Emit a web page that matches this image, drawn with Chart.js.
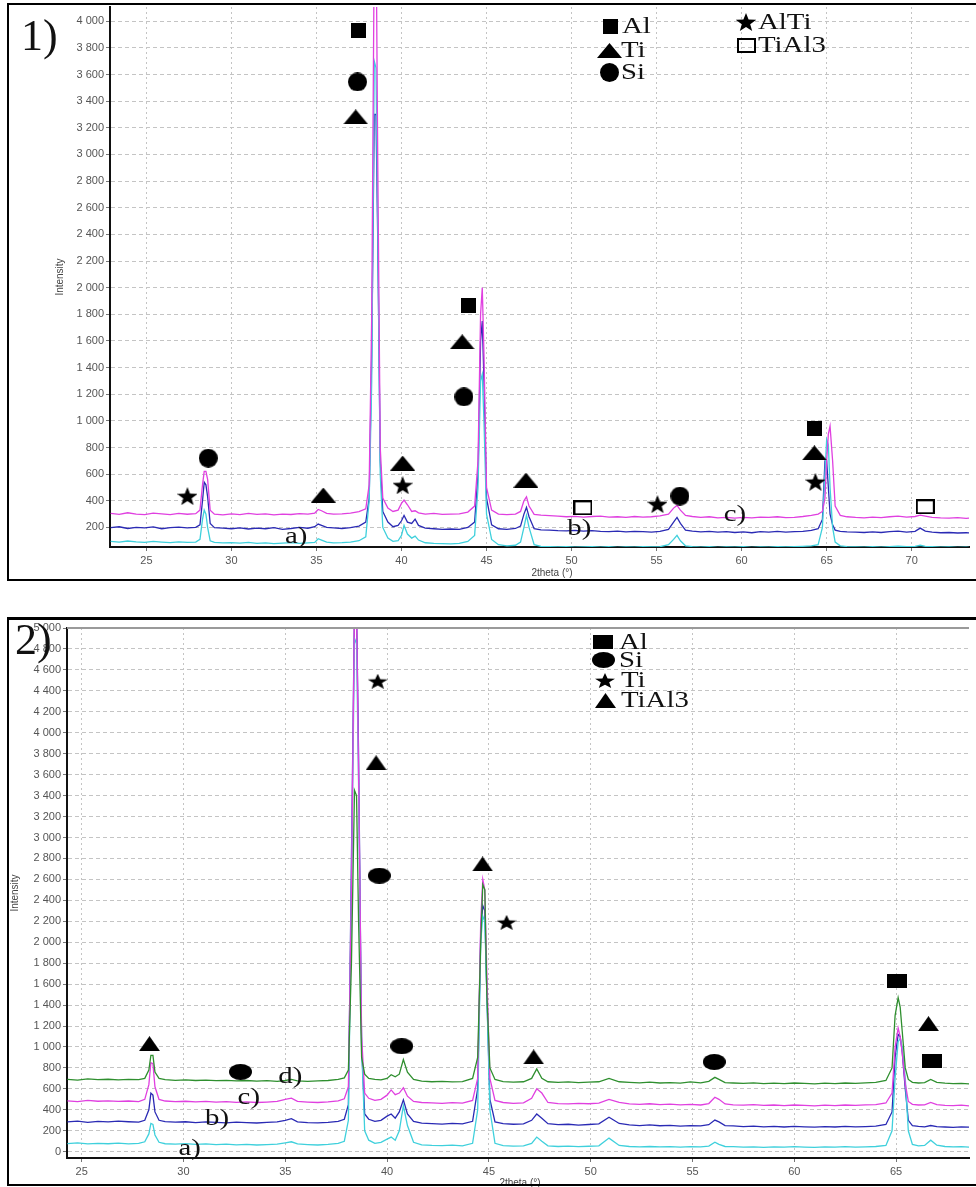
<!DOCTYPE html>
<html>
<head>
<meta charset="utf-8">
<script src="https://cdn.jsdelivr.net/npm/chart.js@4.4.1/dist/chart.umd.min.js"></script>
<style>
  html, body { margin: 0; padding: 0; background: #fff; }
  #page { position: relative; width: 976px; height: 1187px; overflow: hidden; }
  canvas { position: absolute; left: 0; z-index: 1; }
  #chart1 { top: 0; }
  #chart2 { top: 615px; }
  .frame { position: absolute; left: 7px; width: 1000px; box-sizing: border-box; border: 2px solid #000; z-index: 2; }
  #frame1 { top: 3px; height: 578px; }
  #frame2 { top: 617px; height: 569px; border-top-width: 3px; }
</style>
</head>
<body>
<div id="page">
  <canvas id="chart1" width="976" height="580"></canvas>
  <canvas id="chart2" width="976" height="572"></canvas>
  <div class="frame" id="frame1"></div>
  <div class="frame" id="frame2"></div>
</div>
<script>
// ---------- panel 1 : three patterns a) b) c) ----------
const X1 = [
  22.9, 23.4, 23.9, 24.4, 24.9, 25.4, 25.9, 26.4, 26.9, 27.4,
  27.9, 28.15, 28.3, 28.4, 28.5, 28.6, 28.75, 29.0, 29.5, 30.0,
  30.5, 31.0, 31.5, 32.0, 32.5, 33.0, 33.5, 34.0, 34.5, 34.9,
  35.1, 35.3, 35.6, 36.0, 36.5, 37.0, 37.5, 37.9, 38.1, 38.25,
  38.4, 38.5, 38.6, 38.75, 38.9, 39.2, 39.5, 39.8, 40.0, 40.15,
  40.35, 40.6, 40.8, 41.0, 41.4, 41.9, 42.4, 42.9, 43.4, 43.9,
  44.3, 44.5, 44.65, 44.75, 44.85, 45.0, 45.3, 45.7, 46.2, 46.7,
  47.0, 47.2, 47.35, 47.5, 47.8, 48.2, 48.7, 49.2, 49.7, 50.2,
  50.7, 51.2, 51.7, 52.2, 52.7, 53.2, 53.7, 54.2, 54.7, 55.2,
  55.7, 56.0, 56.2, 56.4, 56.7, 57.1, 57.6, 58.1, 58.6, 59.1,
  59.6, 60.1, 60.6, 61.1, 61.6, 62.1, 62.6, 63.1, 63.6, 64.1,
  64.5, 64.75, 64.9, 65.0, 65.1, 65.2, 65.35, 65.5, 65.8, 66.2,
  66.7, 67.2, 67.7, 68.2, 68.7, 69.2, 69.7, 70.2, 70.5, 70.8,
  71.2, 71.7, 72.2, 72.7, 73.2, 73.5
];
// a) cyan
const Y1a = [
  96, 90, 98, 92, 88, 95, 90, 86, 92, 88,
  90, 110, 260, 330, 300, 200, 100, 88, 84, 86,
  82, 88, 80, 84, 78, 82, 86, 80, 84, 88,
  115, 105, 90, 84, 86, 90, 100, 130, 400, 1300,
  3700, 3650, 2500, 600, 200, 120, 95, 100, 140, 215,
  150, 120, 135, 105, 85, 80, 78, 76, 80, 95,
  140, 500, 1300, 1350, 1000, 300, 110, 70, 62, 66,
  90, 200, 290, 200, 70, 58, 56, 54, 55, 52,
  54, 56, 52, 55, 50, 54, 52, 56, 53, 55,
  70, 110, 140, 100, 62, 56, 52, 55, 50, 54,
  52, 55, 50, 54, 52, 56, 53, 55, 58, 62,
  70, 200, 600, 860, 820, 500, 200, 90, 62, 56,
  54, 52, 55, 52, 56, 60, 55, 58, 66, 58,
  55, 52, 54, 50, 52, 50
];
// b) blue
const Y1b = [
  198, 205, 192, 200, 196, 204, 190, 198, 202, 196,
  200, 220, 400, 540, 520, 430, 230, 198, 195, 190,
  196, 188, 194, 190, 198, 186, 192, 200, 194, 205,
  225, 215, 200, 196, 192, 198, 210, 240, 420, 1500,
  3300, 3300, 2400, 700, 320, 240, 205, 215, 250, 290,
  240, 230, 262, 215, 195, 190, 186, 188, 185, 200,
  240, 600, 1600, 1750, 1300, 420, 220, 190, 186, 192,
  210, 300, 350, 280, 190, 182, 180, 176, 174, 178,
  172, 176, 170, 168, 172, 166, 170, 168, 164, 170,
  185, 240, 275, 230, 180, 172, 166, 170, 164, 168,
  162, 166, 160, 168, 165, 170, 164, 168, 170, 178,
  190, 260, 700, 700, 500, 300, 220, 180, 170, 166,
  164, 162, 166, 162, 168, 172, 165, 170, 195, 172,
  164, 160, 162, 158, 160, 158
];
// c) magenta
const Y1c = [
  305, 298, 310, 300, 296, 308, 302, 296, 305, 299,
  303, 330, 520, 620, 620, 560, 330, 300, 294, 302,
  296, 305, 298, 302, 294, 300, 297, 304, 300, 308,
  335, 325, 305, 300, 302, 308, 318, 340, 520, 1800,
  4600, 4800, 3000, 800, 420, 345, 320, 330, 380, 405,
  370, 320, 325, 310, 300, 305, 298, 300, 302, 315,
  360, 700, 1800, 2000, 1500, 500, 330, 300, 296, 300,
  320, 400, 430, 360, 298, 292, 288, 285, 280, 283,
  278, 282, 285, 278, 280, 276, 282, 278, 280, 286,
  300, 345, 365, 330, 290, 282, 276, 280, 272, 275,
  270, 276, 272, 278, 275, 280, 274, 276, 282, 290,
  300, 320, 420, 700, 900, 960, 700, 360, 290, 280,
  275, 272, 278, 274, 280, 285, 278, 282, 292, 285,
  276, 272, 270, 274, 268, 272
];
const p1TraceLabels = ['a)', 'b)', 'c)'];
const p1TraceLabelAt = [[33.8, 127], [50.4, 193], [59.6, 292]];
// phase markers [2theta, intensity]
const p1Squares = [[37.49, 3932], [43.96, 1868], [64.28, 943]];
const p1Triangles = [[37.31, 3282], [35.4, 443], [40.07, 683], [43.57, 1593], [47.32, 555], [64.28, 760]];
const p1Circles = [[28.64, 720], [37.41, 3544], [43.67, 1180], [56.37, 435]];
const p1Stars = [[27.41, 435], [40.07, 517], [55.05, 375], [64.34, 542]];
const p1OpenSquares = [[50.67, 347], [70.8, 355]];
const p1LegendNames = ['Al', 'Ti', 'Si', 'AlTi', 'TiAl3'];
const p1LegendShapes = ['square', 'triangle', 'circle', 'star', 'open'];

// ---------- panel 2 : four patterns a) b) c) d) ----------
const X2 = [
  24.3, 24.8, 25.3, 25.8, 26.3, 26.8, 27.3, 27.8, 28.1, 28.3,
  28.4, 28.5, 28.6, 28.8, 29.1, 29.6, 30.1, 30.6, 31.1, 31.6,
  32.1, 32.6, 33.1, 33.6, 34.1, 34.6, 35.0, 35.3, 35.6, 36.1,
  36.6, 37.1, 37.6, 37.9, 38.1, 38.25, 38.4, 38.5, 38.6, 38.75,
  38.9, 39.1, 39.4, 39.7, 40.0, 40.2, 40.4, 40.6, 40.8, 41.0,
  41.3, 41.7, 42.2, 42.7, 43.2, 43.7, 44.2, 44.45, 44.6, 44.7,
  44.8, 44.9, 45.05, 45.3, 45.7, 46.2, 46.7, 47.1, 47.35, 47.6,
  47.9, 48.4, 48.9, 49.4, 49.9, 50.4, 50.9, 51.4, 51.9, 52.4,
  52.9, 53.4, 53.9, 54.4, 54.9, 55.4, 55.8, 56.1, 56.3, 56.6,
  57.0, 57.5, 58.0, 58.5, 59.0, 59.5, 60.0, 60.5, 61.0, 61.5,
  62.0, 62.5, 63.0, 63.5, 64.0, 64.5, 64.8, 64.95, 65.1, 65.2,
  65.3, 65.45, 65.6, 65.8, 66.1, 66.4, 66.7, 67.0, 67.4, 67.8,
  68.2, 68.6
];
// a) cyan
const Y2a = [
  78, 84, 74, 80, 76, 82, 75, 80, 95, 170,
  270, 260, 160, 90, 76, 72, 78, 70, 74, 68,
  72, 66, 70, 64, 68, 72, 85, 95, 74, 68,
  64, 70, 80, 100, 300, 2500, 4900, 4850, 3500, 1000,
  200, 110, 80, 90, 120, 140, 110, 200, 440, 250,
  90, 66, 60, 58, 62, 56, 80, 400, 2000, 2250,
  2200, 1500, 400, 80, 58, 54, 56, 80, 140, 100,
  56, 50, 54, 48, 52, 56, 130, 60, 50, 46,
  50, 46, 48, 44, 48, 46, 54, 90, 70, 50,
  48, 44, 46, 42, 46, 44, 48, 44, 42, 46,
  44, 48, 44, 46, 50, 60, 200, 700, 1050, 1080,
  1000, 700, 200, 70, 56, 60, 110, 62, 50, 46,
  48, 44
];
// b) blue
const Y2b = [
  285, 292, 280, 290, 284, 292, 286, 282, 300, 400,
  560, 540, 380, 300, 288, 282, 286, 278, 284, 280,
  276, 282, 278, 274, 280, 284, 300, 315, 285, 278,
  275, 280, 290, 310, 450, 2800, 5200, 5200, 3800, 1000,
  360, 310, 290, 300, 340, 360, 320, 380, 495, 360,
  290, 272, 268, 264, 270, 266, 290, 600, 2100, 2350,
  2300, 1500, 500, 285, 268, 262, 266, 300, 360, 320,
  268, 258, 262, 254, 260, 266, 330, 270, 256, 250,
  256, 248, 252, 244, 250, 246, 258, 302, 285, 250,
  246, 240, 244, 238, 242, 236, 242, 238, 234, 240,
  236, 242, 238, 240, 244, 260, 380, 900, 1120, 1100,
  950, 600, 300, 250, 242, 238, 250, 240, 236, 232,
  238, 234
];
// c) magenta
const Y2c = [
  485, 478, 490, 482, 486, 480, 484, 478, 500, 640,
  850, 840, 620, 500, 484, 478, 482, 476, 480, 474,
  478, 472, 476, 470, 474, 480, 500, 512, 480, 474,
  470, 476, 486, 505, 620, 2500, 5200, 5200, 3600, 1100,
  560, 510, 490, 500, 540, 590, 545, 560, 610, 530,
  480, 470, 466, 462, 468, 464, 490, 700, 2200, 2600,
  2500, 1700, 700, 490, 470, 462, 466, 510, 600, 560,
  470, 460, 456, 462, 458, 464, 500, 470, 456, 452,
  458, 450, 454, 448, 452, 446, 460, 520, 500, 456,
  448, 444, 450, 442, 446, 440, 446, 442, 438, 444,
  440, 446, 442, 448, 450, 465, 560, 1000, 1180, 1100,
  950, 650, 480, 452, 446, 448, 470, 450, 442, 440,
  444, 438
];
// d) green
const Y2d = [
  690, 684, 695, 688, 692, 685, 690, 688, 700, 780,
  920, 920, 760, 700, 688, 682, 686, 680, 684, 678,
  682, 676, 680, 674, 678, 672, 680, 690, 676, 672,
  676, 680, 690, 705, 780, 1800, 3450, 3400, 2200, 900,
  740, 700, 690, 685, 700, 735, 715, 740, 880, 760,
  690, 674, 668, 672, 666, 670, 700, 900, 2000, 2550,
  2500, 1500, 800, 690, 670, 664, 668, 700, 790, 700,
  668, 662, 666, 660, 664, 668, 700, 668, 662, 658,
  664, 656, 660, 654, 666, 658, 672, 710, 690, 660,
  656, 652, 658, 650, 654, 650, 656, 652, 648, 654,
  650, 656, 652, 658, 662, 680, 800, 1300, 1470, 1380,
  1150, 800, 690, 662, 656, 660, 690, 662, 654, 650,
  652, 648
];
const p2TraceLabels = ['a)', 'b)', 'c)', 'd)'];
const p2TraceLabelAt = [[30.3, 32], [31.6, 318], [33.2, 518], [35.2, 714]];
const p2Squares = [[65.04, 1629], [66.75, 867]];
const p2Circles = [[32.8, 762], [39.62, 2635], [40.72, 1007], [56.07, 857]];
const p2Stars = [[39.54, 4492], [45.87, 2190]];
const p2Triangles = [[28.33, 1032], [39.46, 3714], [44.69, 2747], [47.2, 905], [66.59, 1223]];
const p2LegendNames = ['Al', 'Si', 'Ti', 'TiAl3'];
const p2LegendShapes = ['square', 'circle', 'star', 'triangle'];

// ---------- drawing helpers ----------
Chart.defaults.font.family = '"Liberation Sans", Arial, sans-serif';
const SERIF = '"Liberation Serif", "Times New Roman", serif';
const CYAN = '#3fd0dc', BLUE = '#2a2ab4', MAGENTA = '#e040e0', GREEN = '#2f8f2f';

// small canvases used as point styles for the phase symbols
function marker(kind, w, h) {
    const c = document.createElement('canvas');
    c.width = w; c.height = h;
    const g = c.getContext('2d');
    g.fillStyle = '#000';
    g.strokeStyle = '#000';
    if (kind === 'square') {
        g.fillRect(0, 0, w, h);
    } else if (kind === 'open') {
        g.lineWidth = 2;
        g.strokeRect(1, 1, w - 2, h - 2);
    } else if (kind === 'circle') {
        g.beginPath();
        g.ellipse(w / 2, h / 2, w / 2, h / 2, 0, 0, Math.PI * 2);
        g.fill();
    } else if (kind === 'triangle') {
        g.beginPath();
        g.moveTo(w / 2, 0); g.lineTo(w, h); g.lineTo(0, h);
        g.closePath(); g.fill();
    } else if (kind === 'star') {
        const ry = h / 1.81, rx = w / 1.9;
        g.beginPath();
        for (let i = 0; i < 10; i++) {
            const r = i % 2 ? 0.42 : 1;
            const a = -Math.PI / 2 + i * Math.PI / 5;
            g.lineTo(w / 2 + Math.cos(a) * rx * r, ry + Math.sin(a) * ry * r);
        }
        g.closePath(); g.fill();
    }
    return c;
}

const mk1 = {
    square: marker('square', 15, 15), triangle: marker('triangle', 25, 15),
    circle: marker('circle', 19, 19), star: marker('star', 20, 18), open: marker('open', 19, 15)
};
const mk2 = {
    square: marker('square', 20, 14), triangle: marker('triangle', 21, 15),
    circle: marker('circle', 23, 16), star: marker('star', 20, 15)
};

const fmt = v => v >= 1000 ? Math.floor(v / 1000) + ' ' + String(v % 1000).padStart(3, '0') : String(v);

function trace(xs, ys, color) {
    return {
        data: xs.map((x, i) => ({ x, y: ys[i] })),
        borderColor: color, borderWidth: 1.3, pointRadius: 0, tension: 0, fill: false
    };
}

function symbols(points, img) {
    return {
        data: points.map(([x, y]) => ({ x, y })),
        showLine: false, pointStyle: img, pointRadius: 6, pointHoverRadius: 6,
        borderColor: '#000', backgroundColor: '#000', clip: false
    };
}

function serifText(ctx, text, x, y, size) {
    ctx.save();
    ctx.translate(x, y);
    ctx.scale(1.2, 1);
    ctx.font = size + 'px ' + SERIF;
    ctx.textAlign = 'left';
    ctx.textBaseline = 'middle';
    ctx.fillStyle = '#111';
    ctx.fillText(text, 0, 0);
    ctx.restore();
}

// text, legend and titles drawn on top of the plot
function overlay(spec) {
    return {
        id: 'overlay',
        afterDatasetsDraw(chart) {
            const ctx = chart.ctx, xs = chart.scales.x, ys = chart.scales.y, area = chart.chartArea;
            ctx.save();
            if (spec.topLine) {
                ctx.strokeStyle = '#9a9a9a';
                ctx.lineWidth = 2;
                ctx.beginPath();
                ctx.moveTo(area.left, area.top);
                ctx.lineTo(area.right, area.top);
                ctx.stroke();
            }
            // a) b) c) ... next to the patterns
            spec.labels.forEach((t, i) => {
                const [vx, vy] = spec.labelAt[i];
                const w = ctx.measureText(t).width;
                serifText(ctx, t, xs.getPixelForValue(vx) - 11, ys.getPixelForValue(vy), 24);
            });
            // legend
            spec.legendNames.forEach((name, i) => {
                const img = spec.markers[spec.legendShapes[i]];
                const [cx, cy] = spec.legendPos[i];
                ctx.drawImage(img, Math.round(cx - img.width / 2), Math.round(cy - img.height / 2));
                serifText(ctx, name, cx + spec.legendGap, cy + 1, 24);
            });
            // panel tag
            ctx.font = spec.tag.size + 'px ' + SERIF;
            ctx.fillStyle = '#111';
            ctx.textBaseline = 'alphabetic';
            ctx.textAlign = 'left';
            ctx.fillText(spec.tag.text, spec.tag.x, spec.tag.y);
            // axis titles
            ctx.font = '10px "Liberation Sans", Arial, sans-serif';
            ctx.fillStyle = '#444';
            ctx.textAlign = 'center';
            ctx.textBaseline = 'middle';
            ctx.fillText('2theta (°)', spec.xTitle[0], spec.xTitle[1]);
            ctx.translate(spec.yTitleX, (area.top + area.bottom) / 2);
            ctx.rotate(-Math.PI / 2);
            ctx.fillText('Intensity', 0, 0);
            ctx.restore();
        }
    };
}

function options(p) {
    const gridColor = '#c4c4c4';
    return {
        responsive: false,
        animation: false,
        devicePixelRatio: 1,
        events: [],
        layout: { padding: { top: p.padTop, left: 0, right: 0, bottom: 0 } },
        plugins: { legend: { display: false }, tooltip: { enabled: false } },
        scales: {
            x: {
                type: 'linear', min: p.xMin, max: p.xMax,
                ticks: { stepSize: 5, includeBounds: false, color: '#555', font: { size: 11 }, padding: 3, maxRotation: 0, autoSkip: false },
                grid: { color: gridColor, lineWidth: 1, tickLength: 4, tickColor: '#777' },
                border: { color: '#111', width: 2, dash: [2, 3] },
                afterFit: s => { s.height = p.xAxisH; s.paddingLeft = 0; s.paddingRight = 0; }
            },
            y: {
                type: 'linear', min: p.yMin, max: p.yMax,
                ticks: { stepSize: 200, includeBounds: false, color: '#555', font: { size: 11 }, padding: 2, autoSkip: false, callback: fmt },
                grid: { color: gridColor, lineWidth: 1, tickLength: 4, tickColor: '#777' },
                border: { color: '#111', width: 2, dash: [4, 3] },
                afterFit: s => { s.width = p.yAxisW; s.paddingTop = 0; s.paddingBottom = 0; }
            }
        }
    };
}

// ---------- panel 1 ----------
new Chart(document.getElementById('chart1').getContext('2d'), {
    type: 'line',
    data: {
        datasets: [
            symbols(p1Squares, mk1.square),
            symbols(p1Triangles, mk1.triangle),
            symbols(p1Circles, mk1.circle),
            symbols(p1Stars, mk1.star),
            symbols(p1OpenSquares, mk1.open),
            trace(X1, Y1c, MAGENTA),
            trace(X1, Y1a, CYAN),
            trace(X1, Y1b, BLUE)
        ]
    },
    options: options({ padTop: 5, xMin: 22.86, xMax: 73.37, yMin: 53, yMax: 4107, xAxisH: 33, yAxisW: 110 }),
    plugins: [overlay({
        labels: p1TraceLabels, labelAt: p1TraceLabelAt,
        legendNames: p1LegendNames, legendShapes: p1LegendShapes, markers: mk1,
        legendPos: [[610, 26], [609, 50], [609, 72], [746, 22], [746, 45]], legendGap: 12,
        tag: { text: '1)', x: 21, y: 50, size: 44 },
        xTitle: [552, 573], yTitleX: 60, topLine: false
    })]
});

// ---------- panel 2 ----------
new Chart(document.getElementById('chart2').getContext('2d'), {
    type: 'line',
    data: {
        datasets: [
            symbols(p2Squares, mk2.square),
            symbols(p2Circles, mk2.circle),
            symbols(p2Stars, mk2.star),
            symbols(p2Triangles, mk2.triangle),
            trace(X2, Y2d, GREEN),
            trace(X2, Y2c, MAGENTA),
            trace(X2, Y2a, CYAN),
            trace(X2, Y2b, BLUE)
        ]
    },
    options: options({ padTop: 13, xMin: 24.28, xMax: 68.58, yMin: -60, yMax: 5000, xAxisH: 29, yAxisW: 67 }),
    plugins: [overlay({
        labels: p2TraceLabels, labelAt: p2TraceLabelAt,
        legendNames: p2LegendNames, legendShapes: p2LegendShapes, markers: mk2,
        legendPos: [[603, 27], [603, 45], [605, 65], [605, 85]], legendGap: 16,
        tag: { text: '2)', x: 15, y: 39, size: 44 },
        xTitle: [520, 568], yTitleX: 15, topLine: true
    })]
});
</script>
</body>
</html>
